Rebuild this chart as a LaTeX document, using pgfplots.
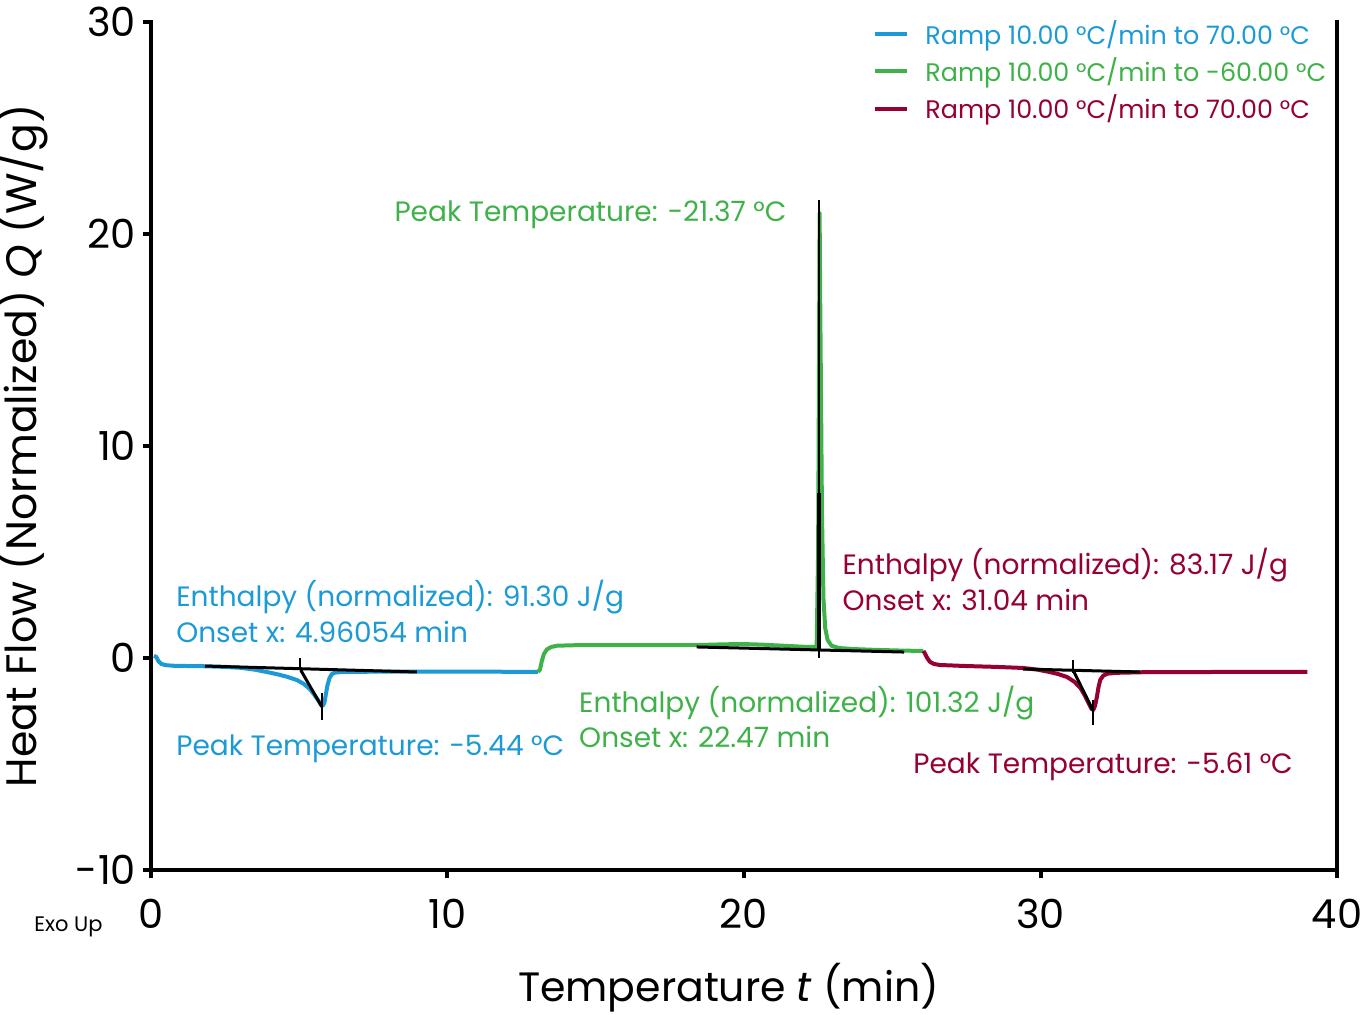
\documentclass[border=0pt]{standalone}
\usepackage{pgfplots}
\pgfplotsset{compat=1.18}
\usepackage{fontspec}
\setmainfont{Poppins}

\definecolor{cblue}{RGB}{27,154,214}
\definecolor{cgreen}{RGB}{62,178,73}
\definecolor{cred}{RGB}{150,0,50}

\newcommand{\annot}{\fontsize{14}{16}\selectfont}

\begin{document}
\begin{tikzpicture}
\useasboundingbox (-75.5pt,-72.5pt) rectangle (605.5pt,435pt);
\begin{axis}[
    at={(0,0)}, anchor=south west,
    scale only axis, width=593pt, height=424pt,
    xmin=0, xmax=40, ymin=-10, ymax=30,
    xtick={0,10,20,30,40}, ytick={-10,0,10,20,30},
    minor tick num=0,
    axis line style={draw=none},
    tick align=outside, xtick pos=bottom, ytick pos=left,
    major tick length=4pt,
    tick style={black, line width=2pt},
    /pgf/number format/assume math mode=true,
    ticklabel style={font=\fontsize{20}{24}\selectfont},
    xticklabel style={yshift=-7pt},
    xlabel={Temperature \textit{t} (min)},
    ylabel={Heat Flow (Normalized) \textit{Q} (W/g)},
    xlabel style={at={(axis description cs:0.487,-0.139)}, anchor=center,
        font=\fontsize{20.5}{24}\selectfont},
    ylabel style={at={(axis description cs:-0.1088,0.5)}, anchor=center,
        font=\fontsize{21.3}{25}\selectfont},
    clip=false,
    legend style={at={(axis description cs:0.6113,1.0)}, anchor=north west,
        xshift=-1.5pt, yshift=3pt,
        draw=none, fill=none, inner sep=0pt, row sep=1.2pt,
        font=\fontsize{12.7}{15}\selectfont, cells={anchor=west},
        nodes={inner xsep=0pt},
        /tikz/every odd column/.append style={column sep=8pt}},
    legend image code/.code={\draw[#1,line width=2pt] (0pt,0pt) -- (16pt,0pt);},
    legend cell align=left,
]
% axis frame: left, bottom, right
\draw[line width=2pt, line cap=rect] (rel axis cs:0,1) -- (rel axis cs:0,0) -- (rel axis cs:1,0) -- (rel axis cs:1,1.0);

% Ramp 1 (heating)
\addplot[cblue, line width=2pt, line join=round] coordinates {
(0.10,0.10) (0.18,0.05) (0.25,-0.15) (0.35,-0.28) (0.50,-0.34) (0.80,-0.37)
(1.80,-0.39) (2.50,-0.42) (3.00,-0.46) (3.50,-0.55) (3.90,-0.66) (4.30,-0.78)
(4.60,-0.89) (4.92,-1.04) (5.15,-1.22) (5.35,-1.46) (5.50,-1.72) (5.65,-2.02)
(5.75,-2.24) (5.80,-2.25) (5.85,-2.10) (5.90,-1.70) (5.95,-1.30) (6.02,-0.95)
(6.10,-0.76) (6.20,-0.69) (6.45,-0.66) (8.00,-0.64) (10.0,-0.64) (12.0,-0.65)
(13.05,-0.66)
};
\addlegendentry{\textcolor{cblue}{Ramp 10.00 °C/min to 70.00 °C}}

% Ramp 2 (cooling)
\addplot[cgreen, line width=2pt, line join=round] coordinates {
(13.05,-0.66) (13.12,-0.55) (13.18,-0.15) (13.25,0.18) (13.35,0.40) (13.50,0.52)
(13.70,0.58) (14.50,0.61) (18.40,0.61) (19.20,0.64) (19.90,0.66) (20.60,0.63)
(21.30,0.58) (22.00,0.53) (22.45,0.52) (22.50,5.0) (22.53,14.0) (22.55,21.0)
(22.57,17.0) (22.60,12.0) (22.63,6.8) (22.68,2.8) (22.74,1.4) (22.82,0.85)
(22.95,0.58) (23.20,0.47) (23.70,0.42) (24.50,0.38) (25.30,0.35) (26.05,0.33)
};
\addlegendentry{\textcolor{cgreen}{Ramp 10.00 °C/min to -60.00 °C}}

% Ramp 3 (heating)
\addplot[cred, line width=2pt, line join=round] coordinates {
(26.05,0.33) (26.10,0.22) (26.17,0.02) (26.27,-0.18) (26.40,-0.28) (26.60,-0.33)
(27.50,-0.38) (28.50,-0.42) (29.40,-0.47) (29.90,-0.55) (30.30,-0.66) (30.60,-0.76)
(30.90,-0.90) (31.15,-1.13) (31.35,-1.42) (31.50,-1.78) (31.62,-2.12) (31.72,-2.40)
(31.78,-2.45) (31.84,-2.25) (31.90,-1.85) (31.96,-1.35) (32.02,-1.02) (32.12,-0.83)
(32.25,-0.74) (32.55,-0.70) (33.50,-0.67) (36.00,-0.66) (39.00,-0.66)
};
\addlegendentry{\textcolor{cred}{Ramp 10.00 °C/min to 70.00 °C}}

% analysis constructions
\addplot[black, line width=1.5pt, forget plot] coordinates {(1.82,-0.38) (8.97,-0.66)};
\addplot[black, line width=1pt, forget plot] coordinates {(5.02,0.0) (5.02,-0.57)};
\addplot[black, line width=1.5pt, forget plot] coordinates {(5.05,-0.57) (5.76,-2.30)};
\addplot[black, line width=1pt, forget plot] coordinates {(5.76,-1.65) (5.76,-2.92)};

\addplot[black, line width=1.5pt, forget plot] coordinates {(18.4,0.52) (25.4,0.28)};
\addplot[black, line width=1pt, forget plot] coordinates {(22.52,21.6) (22.52,0.0)};
\addplot[black, line width=1.8pt, forget plot] coordinates {(22.52,7.8) (22.52,0.40)};

\addplot[black, line width=1.5pt, forget plot] coordinates {(29.41,-0.52) (33.36,-0.66)};
\addplot[black, line width=1pt, forget plot] coordinates {(31.10,-0.09) (31.10,-0.70)};
\addplot[black, line width=1.5pt, forget plot] coordinates {(31.10,-0.57) (31.76,-2.45)};
\addplot[black, line width=1pt, forget plot] coordinates {(31.76,-1.98) (31.76,-3.16)};

% annotations
\node[cblue, anchor=base west, inner sep=0pt, font=\annot] at (axis cs:0.84,2.41) {Enthalpy (normalized): 91.30 J/g};
\node[cblue, anchor=base west, inner sep=0pt, font=\annot] at (axis cs:0.84,0.75) {Onset x: 4.96054 min};
\node[cblue, anchor=base west, inner sep=0pt, font=\annot] at (axis cs:0.84,-4.58) {Peak Temperature: -5.44 °C};

\node[cgreen, anchor=base west, inner sep=0pt, font=\annot] at (axis cs:8.20,20.57) {Peak Temperature: -21.37 °C};
\node[cgreen, anchor=base west, inner sep=0pt, font=\annot] at (axis cs:14.43,-2.55) {Enthalpy (normalized): 101.32 J/g};
\node[cgreen, anchor=base west, inner sep=0pt, font=\annot] at (axis cs:14.43,-4.20) {Onset x: 22.47 min};

\node[cred, anchor=base west, inner sep=0pt, font=\annot] at (axis cs:23.31,3.92) {Enthalpy (normalized): 83.17 J/g};
\node[cred, anchor=base west, inner sep=0pt, font=\annot] at (axis cs:23.31,2.26) {Onset x: 31.04 min};
\node[cred, anchor=base west, inner sep=0pt, font=\annot] at (axis cs:25.70,-5.47) {Peak Temperature: -5.61 °C};

\node[anchor=base east, inner sep=0pt, font=\fontsize{10.5}{12}\selectfont] at ([xshift=-24pt,yshift=-31pt]rel axis cs:0,0) {Exo Up};
\end{axis}
\end{tikzpicture}
\end{document}
